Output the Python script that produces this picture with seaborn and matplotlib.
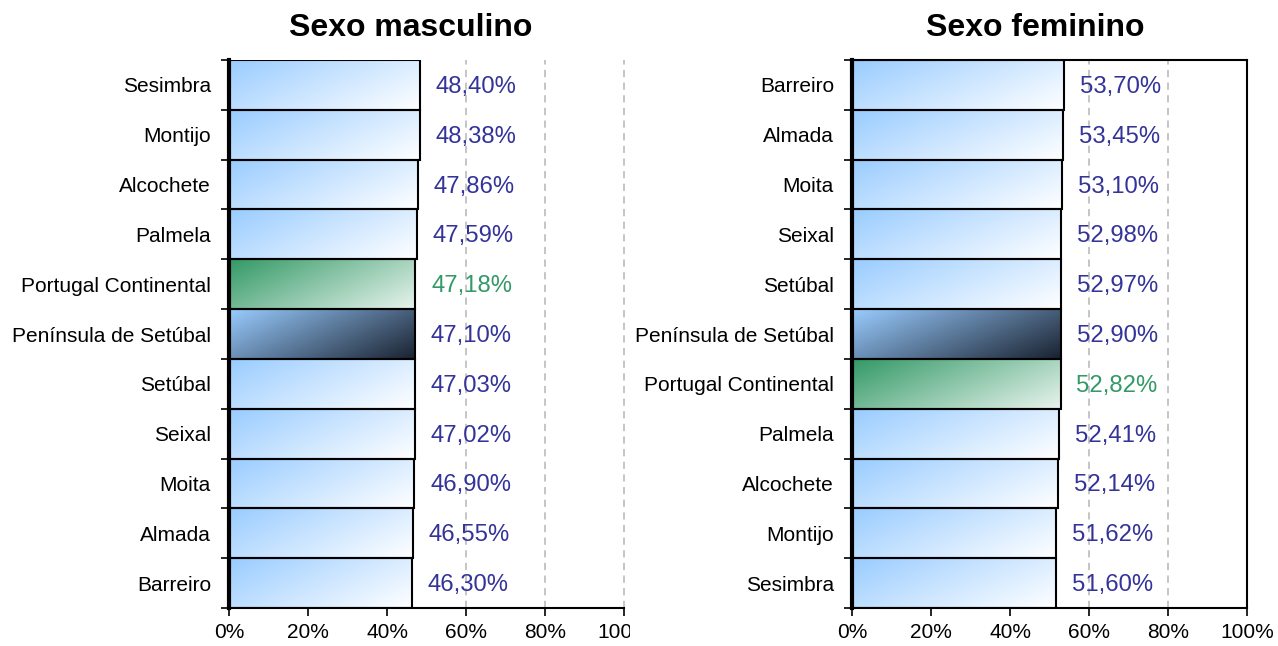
import numpy as np
import pandas as pd
import matplotlib
matplotlib.use("Agg")
import matplotlib.pyplot as plt
import matplotlib.colors as mcolors
from matplotlib.patches import Rectangle
import seaborn as sns

# dados (percentagem da população residente por sexo)
concelhos_masc = ["Sesimbra", "Montijo", "Alcochete", "Palmela", "Portugal Continental",
                  "Península de Setúbal", "Setúbal", "Seixal", "Moita", "Almada", "Barreiro"]
valores_masc = [48.40, 48.38, 47.86, 47.59, 47.18, 47.10, 47.03, 47.02, 46.90, 46.55, 46.30]

concelhos_fem = ["Barreiro", "Almada", "Moita", "Seixal", "Setúbal", "Península de Setúbal",
                 "Portugal Continental", "Palmela", "Alcochete", "Montijo", "Sesimbra"]
valores_fem = [53.70, 53.45, 53.10, 52.98, 52.97, 52.90, 52.82, 52.41, 52.14, 51.62, 51.60]

ticks_x = [0, 20, 40, 60, 80, 100]
titulos = ["Sexo masculino", "Sexo feminino"]

sns.set_theme(style="white")
plt.rcParams["font.family"] = ["Liberation Sans", "DejaVu Sans"]

AZUL_TXT = "#333399"
VERDE_TXT = "#339966"

# cores do gradiente (canto sup. esquerdo -> canto inf. direito)
gradientes = {
    "Portugal Continental": ("#339966", "#E8F4EE"),
    "Península de Setúbal": ("#99CCFF", "#1A2230"),
}
grad_normal = ("#99CCFF", "#FFFFFF")


def gradiente(c0, c1, n=40, m=120):
    a = np.array(mcolors.to_rgb(c0))
    b = np.array(mcolors.to_rgb(c1))
    xx, yy = np.meshgrid(np.linspace(0, 1, m), np.linspace(0, 1, n))
    t = 0.65 * xx + 0.35 * yy
    return a[None, None, :] * (1 - t[..., None]) + b[None, None, :] * t[..., None]


fig = plt.figure(figsize=(12.78, 6.46), dpi=100)
ax1 = fig.add_axes([229 / 1278, 38 / 646, 395 / 1278, 548 / 646])
ax2 = fig.add_axes([852 / 1278, 38 / 646, 395 / 1278, 548 / 646])

paineis = [(ax1, concelhos_masc, valores_masc), (ax2, concelhos_fem, valores_fem)]

for k, (ax, nomes, valores) in enumerate(paineis):
    df = pd.DataFrame({"concelho": nomes, "valor": valores})
    sns.barplot(data=df, x="valor", y="concelho", ax=ax, color="white",
                width=1.0, edgecolor="black", linewidth=1.5, orient="h")

    for patch, nome in zip(ax.patches, nomes):
        x0, y0 = patch.get_x(), patch.get_y()
        w, h = patch.get_width(), patch.get_height()
        c0, c1 = gradientes.get(nome, grad_normal)
        im = ax.imshow(gradiente(c0, c1), extent=(x0, x0 + w, y0 + h, y0),
                       aspect="auto", interpolation="bilinear", zorder=2)
        im.set_clip_path(patch)
        patch.set_facecolor("none")
        patch.set_zorder(3)

    for i, (nome, v) in enumerate(zip(nomes, valores)):
        cor = VERDE_TXT if nome == "Portugal Continental" else AZUL_TXT
        ax.text(v + 4, i + 0.04, f"{v:.2f}%".replace(".", ","), va="center", ha="left",
                color=cor, fontsize=17.2, zorder=4)

    ax.set_xlim(0, 100)
    ax.set_ylim(len(nomes) - 0.5, -0.5)
    ax.set_xticks(ticks_x)
    ax.set_xticklabels([f"{t}%" for t in ticks_x])
    ax.set_xlabel("")
    ax.set_ylabel("")
    ax.set_yticks(range(len(nomes)))
    ax.set_yticks(np.arange(-0.5, len(nomes), 1.0), minor=True)
    ax.tick_params(axis="y", which="major", length=0, pad=13, labelsize=15, labelcolor="black")
    ax.tick_params(axis="y", which="minor", length=6, width=1.2, color="black", direction="out", left=True)
    ax.tick_params(axis="x", length=6, width=1.2, color="black", direction="out", bottom=True,
                   labelsize=15, labelcolor="black", pad=5)

    ax.xaxis.grid(True, linestyle=(0, (4, 3)), color="#C0C0C0", linewidth=1.3)
    ax.yaxis.grid(False)
    ax.set_axisbelow(True)
    for g in ax.get_xgridlines():
        g.set_clip_on(False)

    ax.spines["left"].set_linewidth(3)
    ax.spines["left"].set_color("black")
    ax.spines["bottom"].set_linewidth(1.5)
    ax.spines["bottom"].set_color("black")
    if k == 0:
        ax.spines["top"].set_visible(False)
        ax.spines["right"].set_visible(False)
    else:
        for s in ["top", "right"]:
            ax.spines[s].set_linewidth(1.5)
            ax.spines[s].set_color("black")

fig.text(411 / 1278, 1 - 28 / 646, titulos[0], ha="center", va="center",
         fontsize=23, fontweight="bold", color="black")
fig.text(1035 / 1278, 1 - 28 / 646, titulos[1], ha="center", va="center",
         fontsize=23, fontweight="bold", color="black")

# o rótulo "100%" do painel esquerdo aparece cortado no original
corte = Rectangle((0, 0), 630 / 1278, 1, transform=fig.transFigure)
for lab in ax1.get_xticklabels():
    lab.set_clip_path(corte)

fig.savefig("out.png", dpi=100)
